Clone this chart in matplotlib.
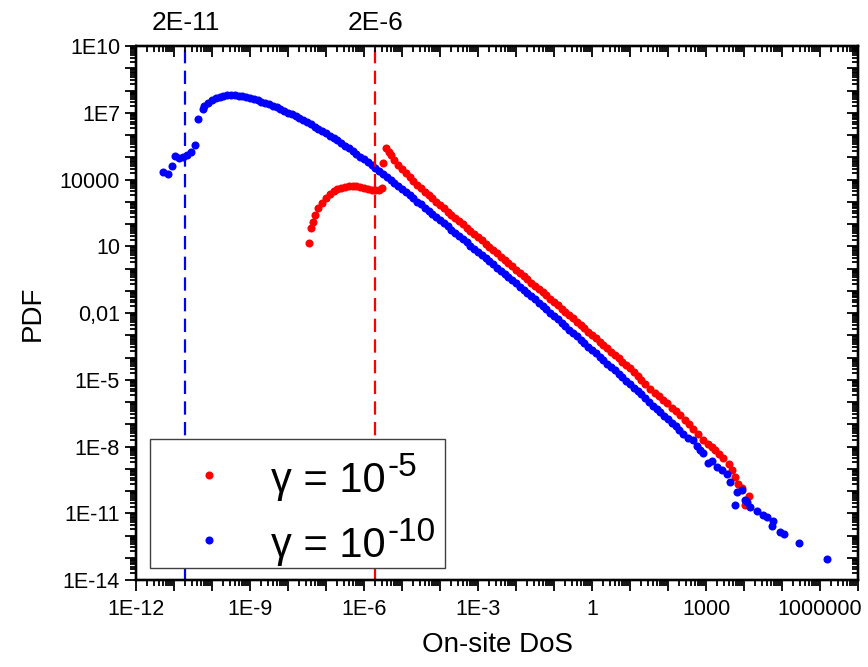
import matplotlib
matplotlib.use("Agg")
import matplotlib.pyplot as plt
import numpy as np
from matplotlib.ticker import FixedLocator, LogLocator, NullFormatter
from matplotlib.patches import Rectangle
from matplotlib.lines import Line2D

plt.rcParams['font.family'] = ['Liberation Sans', 'DejaVu Sans']

# values, as log10(x), log10(y)
blue_lx = [-11.28, -11.17, -11.06, -10.97, -10.86, -10.76, -10.67, -10.56, -10.46, -10.37, -10.25,
           -10.2, -10.1, -10.0, -9.9, -9.8, -9.7, -9.6, -9.5, -9.4, -9.3, -9.2, -9.1, -9.0,
           -8.9, -8.8, -8.7, -8.6, -8.5, -8.4, -8.3, -8.2, -8.1, -8.0, -7.9, -7.8, -7.7, -7.6,
           -7.5, -7.4, -7.3, -7.2, -7.1, -7.0, -6.9, -6.8, -6.7, -6.6, -6.5, -6.4, -6.3, -6.2,
           -6.1, -6.0, -5.9, -5.8, -5.7, -5.6, -5.5, -5.4, -5.3, -5.2, -5.1, -5.0, -4.9, -4.8,
           -4.7, -4.6, -4.5, -4.4, -4.3, -4.2, -4.1, -4.0, -3.9, -3.8, -3.7, -3.6, -3.5, -3.4,
           -3.3, -3.2, -3.1, -3.0, -2.9, -2.8, -2.7, -2.6, -2.5, -2.4, -2.3, -2.2, -2.1, -2.0,
           -1.9, -1.8, -1.7, -1.6, -1.5, -1.4, -1.3, -1.2, -1.1, -1.0, -0.9, -0.8, -0.7, -0.6,
           -0.5, -0.4, -0.3, -0.2, -0.1, 0.0, 0.1, 0.2, 0.3, 0.4, 0.5, 0.6, 0.7, 0.8, 0.9,
           1.0, 1.1, 1.2, 1.3, 1.4, 1.5, 1.6, 1.7, 1.8, 1.9, 2.0, 2.1, 2.2, 2.3, 2.4,
           2.53, 2.67, 2.75, 2.84, 2.93, 3.06, 3.15, 3.28, 3.41, 3.54, 3.63, 3.76, 3.81, 3.94,
           4.03, 4.07, 4.16, 4.33, 4.51, 4.60, 4.73, 4.77, 4.95, 5.06, 5.46, 6.18]
blue_ly = [4.35, 4.23, 4.62, 5.07, 4.98, 5.03, 5.10, 5.25, 5.55, 6.71, 7.16,
           7.30, 7.45, 7.57, 7.66, 7.73, 7.77, 7.80, 7.80, 7.79, 7.77, 7.74, 7.70, 7.66,
           7.61, 7.56, 7.50, 7.44, 7.38, 7.31, 7.24, 7.17, 7.09, 7.01, 6.93, 6.84, 6.76, 6.67,
           6.58, 6.48, 6.38, 6.28, 6.18, 6.08, 5.97, 5.86, 5.76, 5.64, 5.52, 5.40, 5.28, 5.16,
           5.03, 4.90, 4.77, 4.64, 4.51, 4.38, 4.25, 4.12, 3.98, 3.85, 3.71, 3.57, 3.43, 3.29,
           3.15, 3.01, 2.88, 2.74, 2.60, 2.45, 2.31, 2.17, 2.03, 1.89, 1.74, 1.60, 1.46, 1.32,
           1.18, 1.03, 0.89, 0.75, 0.61, 0.47, 0.32, 0.18, 0.04, -0.10, -0.24, -0.39, -0.53, -0.67,
           -0.81, -0.95, -1.10, -1.24, -1.38, -1.53, -1.68, -1.83, -1.99, -2.14, -2.29, -2.44, -2.60, -2.75,
           -2.90, -3.05, -3.21, -3.36, -3.51, -3.66, -3.82, -3.97, -4.12, -4.27, -4.43, -4.58, -4.73, -4.88, -5.04,
           -5.19, -5.35, -5.50, -5.66, -5.84, -6.00, -6.16, -6.32, -6.47, -6.62, -6.77, -6.93, -7.08, -7.25, -7.45,
           -7.63, -7.71, -7.98, -8.16, -8.31, -8.76, -8.64, -8.90, -9.06, -9.25, -9.58, -10.63, -10.03, -9.96,
           -10.40, -10.48, -10.73, -10.90, -11.08, -11.18, -11.56, -11.33, -11.83, -11.93, -12.35, -13.04]

red_lx = [-7.44, -7.40, -7.35, -7.29, -7.2, -7.1, -7.0, -6.9, -6.8, -6.7, -6.6, -6.5, -6.4,
          -6.3, -6.2, -6.1, -6.0, -5.9, -5.8, -5.7, -5.6, -5.53, -5.49,
          -5.42, -5.35, -5.3, -5.2, -5.1, -5.0, -4.9, -4.8, -4.7, -4.6, -4.5, -4.4, -4.3, -4.2,
          -4.1, -4.0, -3.9, -3.8, -3.7, -3.6, -3.5, -3.4, -3.3, -3.2, -3.1, -3.0, -2.9, -2.8,
          -2.7, -2.6, -2.5, -2.4, -2.3, -2.2, -2.1, -2.0, -1.9, -1.8, -1.7, -1.6, -1.5, -1.4,
          -1.3, -1.2, -1.1, -1.0, -0.9, -0.8, -0.7, -0.6, -0.5, -0.4, -0.3, -0.2, -0.1, 0.0,
          0.1, 0.2, 0.3, 0.4, 0.5, 0.6, 0.7, 0.8, 0.9, 1.0, 1.1, 1.2, 1.3, 1.4, 1.53,
          1.65, 1.75, 1.86, 1.97, 2.1, 2.2, 2.32, 2.45, 2.55, 2.67, 2.8, 2.93, 3.05, 3.15, 3.24,
          3.35, 3.46, 3.6, 3.68, 3.76, 3.85, 3.94, 4.03, 4.13]
red_ly = [1.13, 1.83, 2.08, 2.40, 2.70, 2.95, 3.18, 3.36, 3.48, 3.57, 3.63, 3.67, 3.70,
          3.71, 3.70, 3.67, 3.62, 3.57, 3.53, 3.51, 3.53, 3.62, 4.76,
          5.40, 5.22, 5.10, 4.87, 4.66, 4.47, 4.28, 4.10, 3.93, 3.77, 3.61, 3.45, 3.30, 3.15,
          3.00, 2.85, 2.71, 2.56, 2.42, 2.27, 2.13, 1.98, 1.84, 1.69, 1.55, 1.40, 1.26, 1.11,
          0.97, 0.82, 0.68, 0.53, 0.39, 0.24, 0.10, -0.05, -0.19, -0.34, -0.48, -0.63, -0.77, -0.92,
          -1.07, -1.21, -1.36, -1.51, -1.65, -1.80, -1.95, -2.10, -2.24, -2.39, -2.54, -2.69, -2.84, -2.99,
          -3.14, -3.29, -3.44, -3.59, -3.74, -3.89, -4.04, -4.19, -4.34, -4.49, -4.66, -4.84, -5.02, -5.20, -5.40,
          -5.58, -5.74, -5.90, -6.06, -6.25, -6.42, -6.60, -6.80, -6.98, -7.20, -7.45, -7.70, -7.90, -8.02, -8.16,
          -8.33, -8.53, -8.80, -9.05, -9.36, -9.69, -9.88, -10.63, -10.22]

cut_blue = 2e-11
cut_red = 2e-6
cut_labels = ["2E-11", "2E-6"]

x_major = [-12, -11, -10, -9, -8, -7, -6, -5, -4, -3, -2, -1, 0, 1, 2, 3, 4, 5, 6, 7]
x_labels = {-12: "1E-12", -9: "1E-9", -6: "1E-6", -3: "1E-3", 0: "1", 3: "1000", 6: "1000000"}
y_major = list(range(-14, 11))
y_labels = {-14: "1E-14", -11: "1E-11", -8: "1E-8", -5: "1E-5", -2: "0,01", 1: "10",
            4: "10000", 7: "1E7", 10: "1E10"}

leg_base = ["γ = 10", "γ = 10"]
leg_sup = ["-5", "-10"]
leg_colors = ['#ff0000', '#0000ff']

W, H = 868, 667
fig = plt.figure(figsize=(W/100, H/100), dpi=100)
ax = fig.add_axes([136/W, 87/H, 722/W, 534/H])

ax.plot(10**np.array(red_lx), 10**np.array(red_ly), 'o', color='#ff0000', ms=5.8, mec='none')
ax.plot(10**np.array(blue_lx), 10**np.array(blue_ly), 'o', color='#0000ff', ms=5.8, mec='none')

ax.axvline(cut_blue, color='#0000ff', lw=1.6, dashes=(6, 3.3))
ax.axvline(cut_red, color='#ff0000', lw=1.6, dashes=(6, 3.3))

ax.set_xscale('log')
ax.set_yscale('log')
ax.set_xlim(1e-12, 1e7)
ax.set_ylim(1e-14, 1e10)

def set_ticks(axis, majors, labels=None):
    axis.set_major_locator(FixedLocator([10.0**e for e in majors]))
    axis.set_minor_locator(LogLocator(base=10, subs=np.arange(2, 10), numticks=100))
    axis.set_minor_formatter(NullFormatter())
    if labels is not None:
        axis.set_ticklabels([labels.get(e, "") for e in majors])

set_ticks(ax.xaxis, x_major, x_labels)
set_ticks(ax.yaxis, y_major, y_labels)
ax.tick_params(which='both', direction='out', width=1.3, labelsize=15.5, top=False, right=False)
ax.tick_params(which='major', length=8)
ax.tick_params(which='minor', length=4)
ax.tick_params(axis='x', pad=6)

# mirrored inward ticks on top and right
ax2 = ax.twiny()
ax2.set_xscale('log')
ax2.set_xlim(ax.get_xlim())
set_ticks(ax2.xaxis, x_major)
ax2.tick_params(which='both', direction='in', width=1.3, labeltop=False)
ax2.tick_params(which='major', length=8)
ax2.tick_params(which='minor', length=4)
ax3 = ax.twinx()
ax3.set_yscale('log')
ax3.set_ylim(ax.get_ylim())
set_ticks(ax3.yaxis, y_major)
ax3.tick_params(which='both', direction='in', width=1.3, labelright=False)
ax3.tick_params(which='major', length=8)
ax3.tick_params(which='minor', length=4)

for a in (ax, ax2, ax3):
    for s in a.spines.values():
        s.set_linewidth(1.6)

for xv, lab in zip([cut_blue, cut_red], cut_labels):
    ax.text(xv, 1 + 16/534, lab, transform=ax.get_xaxis_transform(), ha='center',
            va='baseline', fontsize=19)

ax.set_xlabel("On-site DoS", fontsize=20, labelpad=8)
ax.set_ylabel("PDF", fontsize=20, labelpad=10)

# legend box, drawn in figure pixels
def fxy(px, py):
    return px/W, 1 - py/H

fig.add_artist(Rectangle(fxy(150, 568), 295/W, 129/H, transform=fig.transFigure,
                         facecolor='white', edgecolor='#404040', lw=1.0, zorder=5))
fig.canvas.draw()
renderer = fig.canvas.get_renderer()
for i, (base, sup, col) in enumerate(zip(leg_base, leg_sup, leg_colors)):
    my = 475 + 65*i
    fig.add_artist(Line2D([209/W], [1 - my/H], marker='o', ms=5.8, color=col, mec='none',
                          transform=fig.transFigure, zorder=6))
    bx, by = fxy(271, 492 + 65*i)
    t = fig.text(bx, by, base, fontsize=30, va='baseline', ha='left', zorder=6)
    x1 = t.get_window_extent(renderer).x1
    fig.text((x1 + 2)/W, 1 - (476 + 65*i)/H, sup, fontsize=24, va='baseline', ha='left', zorder=6)

fig.savefig("out.png", dpi=100)
